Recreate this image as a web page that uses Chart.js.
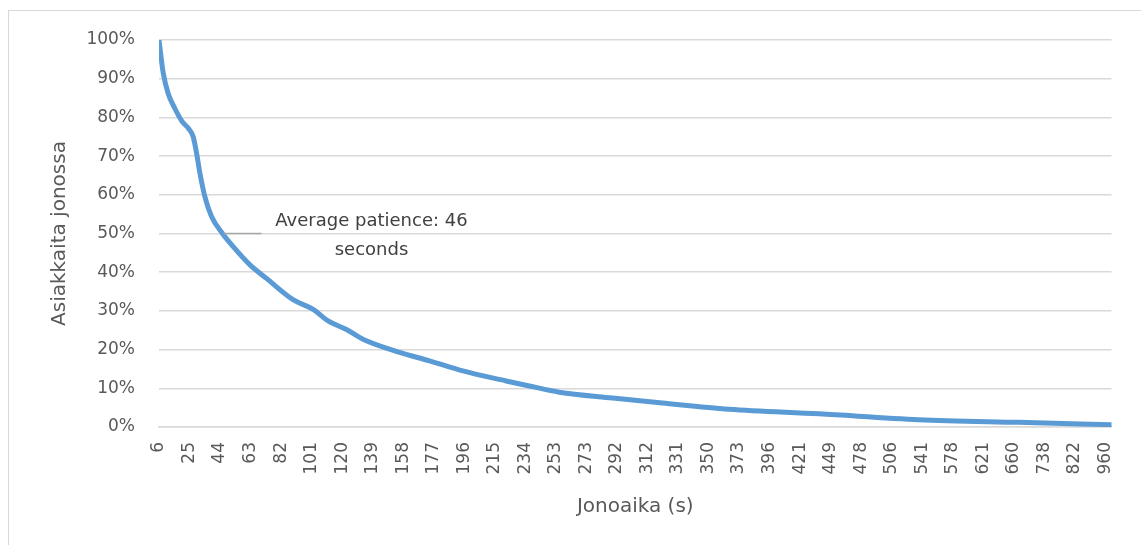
<!DOCTYPE html>
<html>
<head>
<meta charset="utf-8">
<script src="https://cdn.jsdelivr.net/npm/chart.js@4"></script>
<style>
  html, body { margin: 0; padding: 0; background: #fff; overflow: hidden; }
  #frame { position: absolute; left: 8px; top: 10px; width: 1200px; height: 600px;
           border-left: 1px solid #d9d9d9; border-top: 1px solid #d9d9d9; }
  #curve { position: absolute; left: 0; top: 0; }
</style>
</head>
<body>
<div id="frame"></div>
<canvas id="curve" width="1141" height="545"></canvas>
<script>
// queue time labels shown under the axis (every 19th observed queue time)
var tickLabels = ['6','25','44','63','82','101','120','139','158','177','196','215','234','253',
  '273','292','312','331','350','373','396','421','449','478','506','541','578','621','660',
  '738','822','960'];

// position along the axis, in label steps (0 = "6", 31 = "960")
var pos = [0, 0.14, 0.30, 0.52, 0.76, 0.96, 1.12, 1.23, 1.34, 1.50, 1.72, 2.08, 2.43, 2.98,
  3.52, 4.39, 5.05, 5.54, 6.14, 6.68, 7.88, 8.86, 9.95, 11.37, 12.13, 13.11, 14.86, 16.49,
  18.67, 21.62, 24.89, 28.16, 31.2];

// share of customers still waiting (%)
var share = [100, 91.4, 86.2, 82.3, 78.9, 77.2, 75.0, 70.8, 65.6, 59.6, 54.4, 50.0, 46.6, 41.9,
  38.4, 32.9, 30.4, 27.4, 25.2, 22.7, 19.3, 17.1, 14.5, 11.9, 10.6, 9.0, 7.5, 6.2,
  4.6, 3.4, 1.9, 1.2, 0.6];

var avgLabel = ['Average patience: 46', 'seconds'];
var avgPoint = { x: 2.08, y: 50 };

var pts = pos.map(function (p, i) { return { x: p, y: share[i] }; });

var labelPlugin = {
  id: 'avgLabel',
  afterDatasetsDraw: function (chart) {
    var ctx = chart.ctx;
    var px = chart.scales.x.getPixelForValue(avgPoint.x);
    var py = chart.scales.y.getPixelForValue(avgPoint.y);
    ctx.save();
    ctx.strokeStyle = '#a6a6a6';
    ctx.lineWidth = 1.5;
    ctx.beginPath();
    ctx.moveTo(px + 1, py);
    ctx.lineTo(px + 39, py);
    ctx.stroke();
    ctx.fillStyle = '#404040';
    ctx.font = '18px "DejaVu Sans"';
    ctx.textAlign = 'center';
    ctx.textBaseline = 'middle';
    ctx.fillText(avgLabel[0], px + 149, py - 12);
    ctx.fillText(avgLabel[1], px + 149, py + 17);
    ctx.restore();
  }
};

var ctx = document.getElementById('curve').getContext('2d');
var chart = new Chart(ctx, {
  type: 'line',
  data: {
    datasets: [{
      data: pts,
      borderColor: '#5b9bd5',
      borderWidth: 5,
      borderCapStyle: 'round',
      borderJoinStyle: 'round',
      pointRadius: 0,
      cubicInterpolationMode: 'monotone',
      fill: false
    }]
  },
  options: {
    responsive: false,
    animation: false,
    layout: { padding: { left: 44, top: 40, right: 28, bottom: 22 } },
    plugins: { legend: { display: false }, tooltip: { enabled: false } },
    scales: {
      x: {
        type: 'linear',
        min: 0,
        max: 31.2,
        grid: { display: false, drawTicks: false },
        border: { display: true, color: '#d9d9d9', width: 1.5 },
        ticks: {
          stepSize: 1,
          includeBounds: false,
          autoSkip: false,
          maxRotation: 90,
          minRotation: 90,
          padding: 15,
          color: '#595959',
          font: { family: 'DejaVu Sans', size: 17 },
          callback: function (v) { return tickLabels[v]; }
        },
        title: { display: true, text: 'Jonoaika (s)', color: '#595959',
                 font: { family: 'DejaVu Sans', size: 20 } },
        afterFit: function (s) { s.height = 96; }
      },
      y: {
        min: 0,
        max: 100,
        grid: { color: '#d9d9d9', lineWidth: 1.5, drawTicks: false },
        border: { display: false },
        ticks: {
          stepSize: 10,
          padding: 24,
          color: '#595959',
          font: { family: 'DejaVu Sans', size: 17 },
          callback: function (v) { return v + '%'; }
        },
        title: { display: true, text: 'Asiakkaita jonossa', color: '#595959',
                 font: { family: 'DejaVu Sans', size: 20 } },
        afterFit: function (s) { s.width = 115; }
      }
    }
  },
  plugins: [labelPlugin]
});
</script>
</body>
</html>
